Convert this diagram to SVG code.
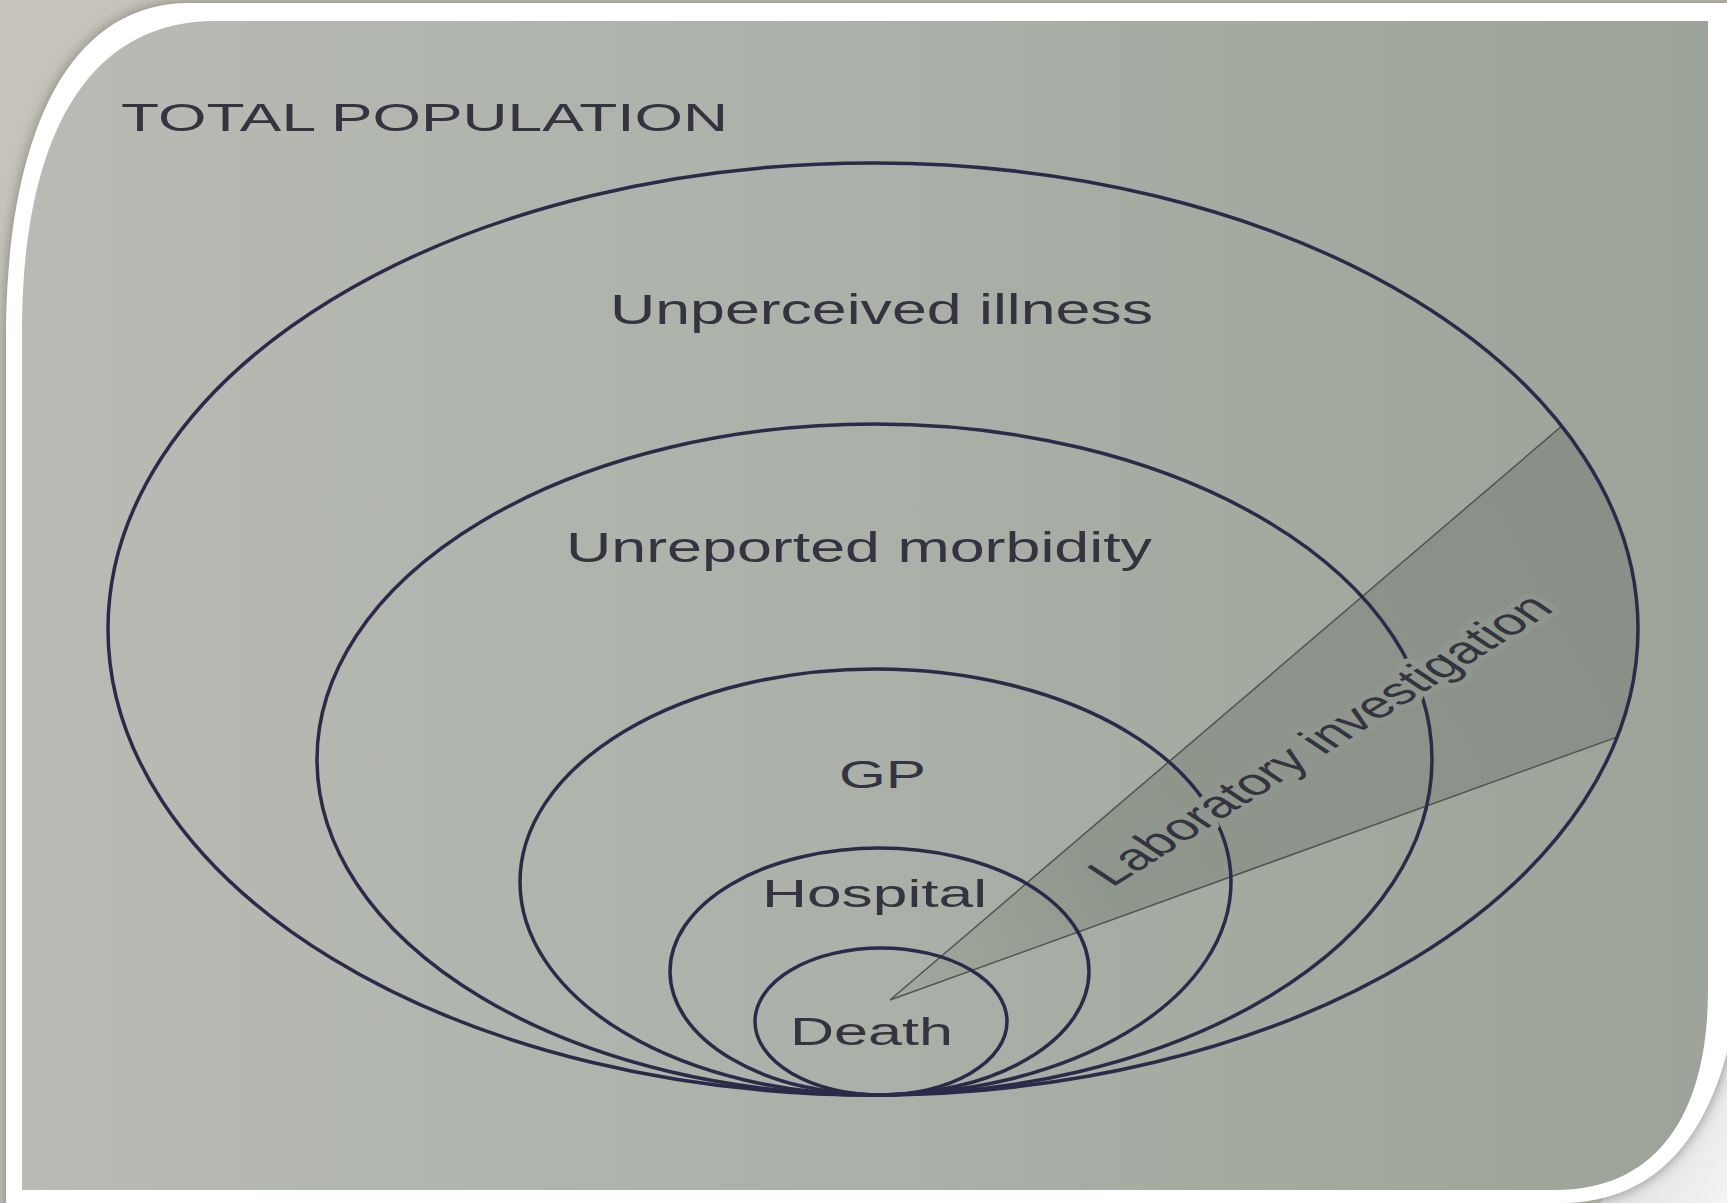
<svg xmlns="http://www.w3.org/2000/svg" width="1727" height="1203" viewBox="0 0 1727 1203">
  <style>
    .ring { fill: none; stroke: #2c2a48; stroke-width: 3.5; }
    .lbl { font-family: "Liberation Sans", Arial, sans-serif; fill: #34333f; }
    .halo { stroke: #8f968d; stroke-width: 10; stroke-linejoin: round; paint-order: stroke; }
  </style>
  <defs>
    <linearGradient id="photoBg" x1="0" y1="0" x2="1" y2="0">
      <stop offset="0" stop-color="#b8bcb4"/>
      <stop offset="0.5" stop-color="#abb0a8"/>
      <stop offset="1" stop-color="#9ea399"/>
    </linearGradient>
    <linearGradient id="wedgeFill" gradientUnits="userSpaceOnUse" x1="890" y1="1000" x2="1600" y2="600">
      <stop offset="0" stop-color="#a3a99f"/>
      <stop offset="0.3" stop-color="#90978d"/>
      <stop offset="1" stop-color="#899087"/>
    </linearGradient>
    <linearGradient id="brBg" x1="0" y1="0" x2="1" y2="1">
      <stop offset="0" stop-color="#cfcfcf"/>
      <stop offset="1" stop-color="#f4f4f4"/>
    </linearGradient>
    <clipPath id="photoClip">
      <path d="M 22 330 C 22 150 80 21 215 21 H 1708 V 990 C 1708 1110 1660 1190 1555 1190 H 22 Z"/>
    </clipPath>
    <clipPath id="outerClip">
      <ellipse cx="873" cy="629" rx="765" ry="466"/>
    </clipPath>
    <filter id="shadow" x="-5%" y="-5%" width="110%" height="110%">
      <feDropShadow dx="0" dy="0" stdDeviation="7" flood-color="#6b6860" flood-opacity="0.75"/>
    </filter>
  </defs>

  <!-- page background -->
  <rect x="0" y="0" width="1727" height="1203" fill="#c6c3bb"/>
  <path d="M 1600 1203 L 1727 1000 V 1203 Z" fill="url(#brBg)"/>

  <!-- white picture frame -->
  <path d="M 6 340 C 6 150 60 3 190 3 H 1740 V 980 C 1727 1100 1680 1203 1560 1203 V 1215 H 6 Z" fill="#ffffff" filter="url(#shadow)"/>

  <!-- photo area -->
  <g clip-path="url(#photoClip)">
    <rect x="0" y="0" width="1727" height="1203" fill="url(#photoBg)"/>

    <!-- laboratory investigation wedge -->
    <g id="wedge" clip-path="url(#outerClip)">
      <polygon points="890,1000 1700,308 1750,689" fill="url(#wedgeFill)" stroke="#4f564e" stroke-width="1.5"/>
    </g>

    <!-- nested rings -->
    <g id="connectors">
      <g id="ring-unperceived"><ellipse class="ring" cx="873" cy="629" rx="765" ry="466"/></g>
      <g id="ring-unreported"><ellipse class="ring" cx="874.5" cy="759.5" rx="557.5" ry="335.5"/></g>
      <g id="ring-gp"><ellipse class="ring" cx="875.5" cy="882" rx="355.5" ry="213"/></g>
      <g id="ring-hospital"><ellipse class="ring" cx="879.5" cy="971.5" rx="209.5" ry="123.5"/></g>
      <g id="ring-death"><ellipse class="ring" cx="881" cy="1021.5" rx="126" ry="73.5"/></g>
    </g>

    <g id="node-total"><text class="lbl" x="121" y="131" font-size="39" textLength="607" lengthAdjust="spacingAndGlyphs">TOTAL POPULATION</text></g>
    <g id="node-unperceived"><text class="lbl" x="610" y="324" font-size="42" textLength="543" lengthAdjust="spacingAndGlyphs">Unperceived illness</text></g>
    <g id="node-unreported"><text class="lbl" x="566" y="562" font-size="42" textLength="586" lengthAdjust="spacingAndGlyphs">Unreported morbidity</text></g>
    <g id="node-gp"><text class="lbl" x="839" y="788" font-size="38" textLength="87" lengthAdjust="spacingAndGlyphs">GP</text></g>
    <g id="node-hospital"><text class="lbl" x="762" y="907" font-size="38" textLength="225" lengthAdjust="spacingAndGlyphs">Hospital</text></g>
    <g id="node-death"><text class="lbl" x="790" y="1045" font-size="38" textLength="163" lengthAdjust="spacingAndGlyphs">Death</text></g>
    <g id="node-lab" transform="translate(1112,888) scale(1.55,1) rotate(-44.2)">
      <text class="lbl halo" x="0" y="0" font-size="38" textLength="399" lengthAdjust="spacingAndGlyphs">Laboratory investigation</text>
    </g>
  </g>
</svg>
